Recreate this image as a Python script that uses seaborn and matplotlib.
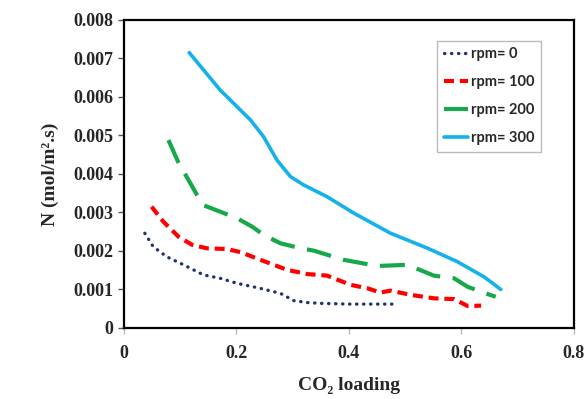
import pandas as pd
import seaborn as sns
import matplotlib.pyplot as plt

# rpm = 0
x_rpm0 = [0.037, 0.052, 0.076, 0.106, 0.141, 0.171, 0.201, 0.242, 0.278, 0.302, 0.326, 0.349, 0.40, 0.45, 0.486]
n_rpm0 = [0.00246, 0.00211, 0.00185, 0.00164, 0.00138, 0.00129, 0.00116, 0.00103, 0.00090, 0.00071, 0.00066, 0.00064, 0.00062, 0.00062, 0.00062]

# rpm = 100
x_rpm100 = [0.049, 0.070, 0.097, 0.121, 0.147, 0.183, 0.207, 0.248, 0.290, 0.326, 0.361, 0.403, 0.433, 0.456,
            0.474, 0.510, 0.551, 0.587, 0.611, 0.635]
n_rpm100 = [0.00315, 0.00276, 0.00237, 0.00216, 0.00207, 0.00205, 0.00197, 0.00174, 0.00151, 0.00140, 0.00136,
            0.00112, 0.00103, 0.00092, 0.00097, 0.00086, 0.00077, 0.00075, 0.00057, 0.00058]

# rpm = 200
x_rpm200 = [0.079, 0.096, 0.130, 0.141, 0.171, 0.201, 0.228, 0.248, 0.278, 0.314, 0.337, 0.391, 0.450, 0.504,
            0.551, 0.587, 0.611, 0.635, 0.661]
n_rpm200 = [0.00488, 0.00432, 0.00345, 0.00319, 0.00302, 0.00285, 0.00263, 0.00242, 0.00220, 0.00207, 0.00201,
            0.00177, 0.00161, 0.00164, 0.00136, 0.00129, 0.00107, 0.00094, 0.00081]

# rpm = 300
x_rpm300 = [0.116, 0.171, 0.225, 0.248, 0.272, 0.296, 0.320, 0.361, 0.409, 0.474, 0.540, 0.593, 0.640, 0.652, 0.670]
n_rpm300 = [0.00715, 0.00618, 0.00540, 0.00497, 0.00436, 0.00393, 0.00371, 0.00341, 0.00298, 0.00246, 0.00207,
            0.00172, 0.00133, 0.00120, 0.00100]

x_ticks = [0, 0.2, 0.4, 0.6, 0.8]
y_ticks = [0, 0.001, 0.002, 0.003, 0.004, 0.005, 0.006, 0.007, 0.008]

sns.set_style("white")
plt.rcParams['font.family'] = ['Liberation Serif', 'DejaVu Serif']

fig = plt.figure(figsize=(5.85, 3.99), dpi=100)
ax = fig.add_axes([0.212, 0.178, 0.769, 0.772])

series = [
    ("rpm= 0", x_rpm0, n_rpm0, dict(color="#1f3470", linewidth=2.4, dashes=(0.1, 2.0), dash_capstyle="round")),
    ("rpm= 100", x_rpm100, n_rpm100, dict(color="#ff0000", linewidth=3.0, dashes=(2.4, 1.4))),
    ("rpm= 200", x_rpm200, n_rpm200, dict(color="#18a84a", linewidth=3.0, dashes=(6.0, 3.0))),
    ("rpm= 300", x_rpm300, n_rpm300, dict(color="#14b1ea", linewidth=2.6)),
]

for label, xs, ns, style in series:
    df = pd.DataFrame({"x": xs, "N": ns})
    sns.lineplot(data=df, x="x", y="N", ax=ax, sort=False, estimator=None, label=label, **style)

ax.set_xlim(0, 0.8)
ax.set_ylim(0, 0.008)
ax.set_xticks(x_ticks)
ax.set_xticklabels(["0", "0.2", "0.4", "0.6", "0.8"])
ax.set_yticks(y_ticks)
ax.set_yticklabels(["0", "0.001", "0.002", "0.003", "0.004", "0.005", "0.006", "0.007", "0.008"])

for lab in ax.get_xticklabels() + ax.get_yticklabels():
    lab.set_fontweight("bold")
    lab.set_fontsize(13)

ax.tick_params(axis="x", direction="out", length=4, width=1, color="#bbbbbb", pad=8, bottom=True)
ax.tick_params(axis="y", direction="out", length=4, width=1, color="#555555", pad=4, left=True)

for side in ["left", "bottom", "top", "right"]:
    ax.spines[side].set_color("black")
    ax.spines[side].set_linewidth(1.6)

ax.set_xlabel("CO₂ loading", fontsize=14, fontweight="bold", labelpad=11)
ax.set_ylabel("N (mol/m².s)", fontsize=14, fontweight="bold", labelpad=10)

leg = ax.legend(loc="upper left", bbox_to_anchor=(0.696, 0.932), borderaxespad=0, frameon=True, fancybox=False,
                handlelength=1.7, handletextpad=0.15, borderpad=0.45, labelspacing=0.95,
                prop={"family": ["Lato", "DejaVu Sans"], "weight": "bold", "size": 10.5})
leg.get_frame().set_edgecolor("#aaaaaa")
leg.get_frame().set_linewidth(1.0)

fig.savefig("out.png", dpi=100)
